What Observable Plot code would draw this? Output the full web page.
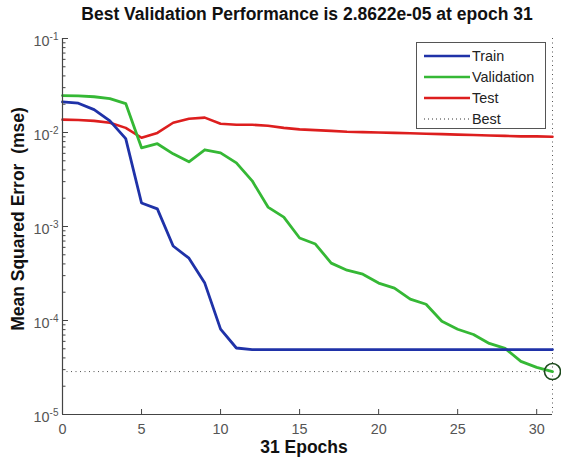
<!DOCTYPE html>
<html>
<head>
<meta charset="utf-8">
<script src="https://cdn.jsdelivr.net/npm/d3@7"></script>
<script src="https://cdn.jsdelivr.net/npm/@observablehq/plot@0.6"></script>
<style>
  html, body { margin: 0; padding: 0; background: #fff; }
  #wrap { position: relative; width: 561px; height: 463px; font-family: "Liberation Sans", Arial, sans-serif; }
  #wrap > svg { position: absolute; left: 0; top: 0; }
  .title { position: absolute; left: 57px; width: 500px; top: 4px; text-align: center; font-weight: bold; font-size: 17.5px; color: #111; }
  .xlabel { position: absolute; left: 204px; width: 200px; top: 437px; text-align: center; font-weight: bold; font-size: 17.5px; color: #111; }
  .ylabel { position: absolute; left: 18px; top: 219px; transform: translate(-50%, -50%) rotate(-90deg); white-space: pre; font-weight: bold; font-size: 17.5px; color: #111; }
  .legend { position: absolute; left: 416px; top: 42px; width: 130px; height: 87px; border: 1px solid #555; background: #fff; box-sizing: border-box; }
  .legend .row { position: absolute; left: 7px; height: 20px; display: flex; align-items: center; font-size: 14.4px; color: #222; }
  .legend svg { margin-right: 1px; }
</style>
</head>
<body>
<div id="wrap">
  <div class="title">Best Validation Performance is 2.8622e-05 at epoch 31</div>
  <div class="xlabel">31 Epochs</div>
  <div class="ylabel">Mean Squared Error  (mse)</div>
</div>
<script>
// ---- data ----
const epochs = d3.range(0, 32);
const trainMse = [0.0212, 0.0205, 0.0175, 0.0133, 0.0086, 0.00178, 0.00154, 0.00062, 0.00046, 0.00025, 8.1e-5, 5.1e-5,
  4.9e-5, 4.9e-5, 4.9e-5, 4.9e-5, 4.9e-5, 4.9e-5, 4.9e-5, 4.9e-5, 4.9e-5, 4.9e-5, 4.9e-5, 4.9e-5, 4.9e-5, 4.9e-5,
  4.9e-5, 4.9e-5, 4.9e-5, 4.9e-5, 4.9e-5, 4.9e-5];
const validationMse = [0.0247, 0.0245, 0.0240, 0.0229, 0.0203, 0.00687, 0.0076, 0.00593, 0.00488, 0.00655, 0.00608, 0.00475,
  0.00306, 0.00161, 0.00126, 0.000754, 0.000651, 0.000408, 0.000343, 0.000311, 0.000250, 0.000221, 0.000169, 0.000149,
  9.8e-5, 8.07e-5, 7.1e-5, 5.7e-5, 5.06e-5, 3.67e-5, 3.17e-5, 2.8622e-5];
const testMse = [0.0137, 0.0136, 0.0133, 0.0127, 0.0112, 0.00879, 0.0099, 0.0127, 0.0140, 0.0144, 0.0124, 0.0121,
  0.0121, 0.0118, 0.0112, 0.0108, 0.0106, 0.0104, 0.0102, 0.0101, 0.0100, 0.0099, 0.0098, 0.0097, 0.0096, 0.0095,
  0.0094, 0.0093, 0.0092, 0.0091, 0.0091, 0.0090];
const bestEpoch = 31;
const bestValue = 2.8622e-5;
const xTicks = [0, 5, 10, 15, 20, 25, 30];
const yMajorTicks = [1e-5, 1e-4, 1e-3, 1e-2, 1e-1];
const seriesNames = ["Train", "Validation", "Test", "Best"];
const seriesColors = ["#1f32a8", "#35b835", "#dd1e1e", "#333333"];

const yMinorTicks = [];
for (let e = -5; e < -1; e++) for (let m = 2; m <= 9; m++) yMinorTicks.push(m * Math.pow(10, e));

const fmtPow = d => "10^" + Math.round(Math.log10(d));

const mk = arr => epochs.map((e, i) => ({epoch: e, mse: arr[i]}));
const train = mk(trainMse), validation = mk(validationMse), test = mk(testMse);

const chart = Plot.plot({
  width: 561,
  height: 463,
  marginLeft: 62,
  marginRight: 9,
  marginTop: 38,
  marginBottom: 49,
  style: {fontFamily: "Liberation Sans, Arial, sans-serif", background: "transparent"},
  x: {domain: [0, 31]},
  y: {type: "log", domain: [1e-5, 1e-1]},
  marks: [
    Plot.ruleY([bestValue], {x1: 0, x2: bestEpoch, stroke: "#555", strokeDasharray: "1,3.5", strokeWidth: 1}),
    Plot.ruleX([bestEpoch], {stroke: "#555", strokeDasharray: "1,3.5", strokeWidth: 1}),
    Plot.lineY(test, {x: "epoch", y: "mse", stroke: seriesColors[2], strokeWidth: 2.6}),
    Plot.lineY(validation, {x: "epoch", y: "mse", stroke: seriesColors[1], strokeWidth: 2.8}),
    Plot.lineY(train, {x: "epoch", y: "mse", stroke: seriesColors[0], strokeWidth: 2.8}),
    Plot.dot([{epoch: bestEpoch, mse: bestValue}], {x: "epoch", y: "mse", r: 8, stroke: "#1d4a1d", strokeWidth: 1.6, fill: "none"}),
    Plot.axisY({ticks: yMinorTicks, tickSize: -3.5, tickFormat: () => "", label: null, stroke: "#444"}),
    Plot.axisY({ticks: yMajorTicks, tickSize: -6, tickPadding: 10, tickFormat: fmtPow, label: null, fontSize: 14.4, fill: "#555", stroke: "#444"}),
    Plot.axisX({ticks: xTicks, tickSize: -5, tickPadding: 14, tickFormat: d => String(d), label: null, fontSize: 14.4, fill: "#555", stroke: "#444"}),
    Plot.ruleX([0], {stroke: "#444", strokeWidth: 1.2}),
    Plot.ruleY([1e-5], {stroke: "#444", strokeWidth: 1.2})
  ]
});

// render "10^e" labels as base + raised exponent
const SVGNS = "http://www.w3.org/2000/svg";
chart.querySelectorAll('g[aria-label="y-axis tick label"] text').forEach(t => {
  const s = t.textContent;
  if (s.indexOf("^") < 0) return;
  const [base, exp] = s.split("^");
  t.textContent = "";
  const b = document.createElementNS(SVGNS, "tspan");
  b.setAttribute("dy", "3");
  b.textContent = base;
  const ts = document.createElementNS(SVGNS, "tspan");
  ts.setAttribute("dy", "-6");
  ts.setAttribute("font-size", "10");
  ts.textContent = exp;
  t.appendChild(b);
  t.appendChild(ts);
});

const wrap = document.getElementById("wrap");
wrap.insertBefore(chart, wrap.firstChild);

// legend
const legend = document.createElement("div");
legend.className = "legend";
seriesNames.forEach((name, i) => {
  const row = document.createElement("div");
  row.className = "row";
  row.style.top = (3 + i * 21) + "px";
  const dash = name === "Best" ? 'stroke-dasharray="1,3" stroke-width="1"' : 'stroke-width="2.4"';
  row.innerHTML = `<svg width="47" height="10"><line x1="0" y1="5" x2="46" y2="5" stroke="${seriesColors[i]}" ${dash}/></svg><span>${name}</span>`;
  legend.appendChild(row);
});
wrap.appendChild(legend);
</script>
</body>
</html>
